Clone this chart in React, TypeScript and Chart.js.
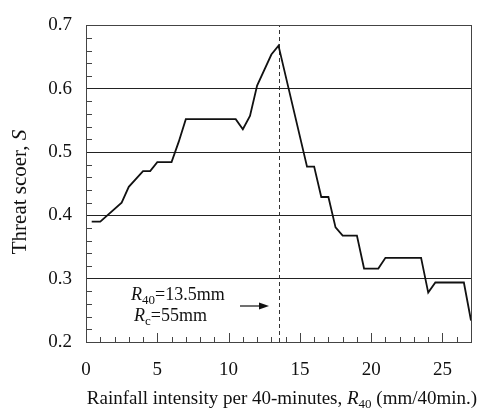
import React, { useEffect, useRef } from "react";
import { Chart, registerables } from "chart.js";

Chart.register(...registerables);

// ---- data ----
const rainfallR40 = [0.4, 1, 2.5, 3, 4, 4.5, 5, 6, 6.5, 7, 10.5, 11, 11.5, 12, 13, 13.5, 15.5, 16, 16.5, 17, 17.5, 18, 19, 19.5, 20.5, 21, 23.5, 24, 24.5, 26.5, 27];
const threatScore = [0.39, 0.39, 0.42, 0.445, 0.47, 0.47, 0.484, 0.484, 0.516, 0.552, 0.552, 0.536, 0.557, 0.605, 0.654, 0.668, 0.477, 0.477, 0.429, 0.429, 0.381, 0.368, 0.368, 0.316, 0.316, 0.333, 0.333, 0.278, 0.294, 0.294, 0.234];
const xTickValues = [0, 5, 10, 15, 20, 25];
const yTickValues = [0.2, 0.3, 0.4, 0.5, 0.6, 0.7];
const thresholdR40 = 13.5;
const xMin = 0;
const xMax = 27;
const yMin = 0.2;
const yMax = 0.7;

const FONT = '"Liberation Serif", "Times New Roman", serif';

type Part = { t: string; italic?: boolean; sub?: boolean };

function partFont(p: Part, size: number) {
  const s = p.sub ? Math.round(size * 0.7) : size;
  return `${p.italic ? "italic " : ""}${s}px ${FONT}`;
}

function richWidth(ctx: CanvasRenderingContext2D, parts: Part[], size: number) {
  let w = 0;
  for (const p of parts) {
    ctx.font = partFont(p, size);
    w += ctx.measureText(p.t).width;
  }
  return w;
}

function drawRich(ctx: CanvasRenderingContext2D, parts: Part[], x: number, y: number, size: number, align: "left" | "center") {
  let cx = align === "center" ? x - richWidth(ctx, parts, size) / 2 : x;
  ctx.textAlign = "left";
  ctx.textBaseline = "alphabetic";
  for (const p of parts) {
    ctx.font = partFont(p, size);
    ctx.fillText(p.t, cx, p.sub ? y + size * 0.22 : y);
    cx += ctx.measureText(p.t).width;
  }
}

const decor = {
  id: "decor",
  beforeDatasetsDraw(chart: any) {
    const { ctx, chartArea: a, scales } = chart;
    const px = Math.round(scales.x.getPixelForValue(thresholdR40)) + 0.5;
    ctx.save();
    ctx.setLineDash([4, 3]);
    ctx.strokeStyle = "#333";
    ctx.lineWidth = 1;
    ctx.beginPath();
    ctx.moveTo(px, a.bottom);
    ctx.lineTo(px, a.top);
    ctx.stroke();
    ctx.restore();
  },
  afterDraw(chart: any) {
    const { ctx, chartArea: a, scales } = chart;
    const xs = scales.x;
    const ys = scales.y;
    ctx.save();
    // frame
    ctx.strokeStyle = "#444";
    ctx.lineWidth = 1;
    ctx.strokeRect(Math.round(a.left) + 0.5, Math.round(a.top) + 0.5, Math.round(a.right - a.left), Math.round(a.bottom - a.top));
    // x minor/major ticks
    ctx.beginPath();
    for (let v = xMin + 1; v < xMax; v++) {
      const px = Math.round(xs.getPixelForValue(v)) + 0.5;
      const len = v % 5 === 0 ? 9 : 5;
      ctx.moveTo(px, a.bottom);
      ctx.lineTo(px, a.bottom - len);
    }
    // y minor ticks
    for (let i = 1; i < 25; i++) {
      if (i % 5 === 0) continue;
      const v = yMin + i * 0.02;
      const py = Math.round(ys.getPixelForValue(v)) + 0.5;
      ctx.moveTo(a.left, py);
      ctx.lineTo(a.left + 6, py);
    }
    ctx.stroke();

    ctx.fillStyle = "#111";
    // annotations
    drawRich(ctx, [{ t: "R", italic: true }, { t: "40", sub: true }, { t: "=13.5mm" }], 131, 300, 18, "left");
    drawRich(ctx, [{ t: "R", italic: true }, { t: "c", sub: true }, { t: "=55mm" }], 134, 321, 18, "left");
    // arrow
    const ay = 306;
    const ax2 = Math.round(xs.getPixelForValue(thresholdR40)) - 10;
    ctx.strokeStyle = "#222";
    ctx.lineWidth = 1.3;
    ctx.beginPath();
    ctx.moveTo(ax2 - 29, ay);
    ctx.lineTo(ax2 - 8, ay);
    ctx.stroke();
    ctx.beginPath();
    ctx.moveTo(ax2, ay);
    ctx.lineTo(ax2 - 10, ay - 3.5);
    ctx.lineTo(ax2 - 10, ay + 3.5);
    ctx.closePath();
    ctx.fill();

    // x title
    drawRich(
      ctx,
      [{ t: "Rainfall intensity per 40-minutes, " }, { t: "R", italic: true }, { t: "40", sub: true }, { t: " (mm/40min.)" }],
      282,
      404,
      19,
      "center"
    );
    // y title
    ctx.translate(26, 192);
    ctx.rotate(-Math.PI / 2);
    drawRich(ctx, [{ t: "Threat scoer, " }, { t: "S", italic: true }], 0, 0, 21, "center");
    ctx.restore();
  },
};

export default function App() {
  const ref = useRef<HTMLCanvasElement | null>(null);
  useEffect(() => {
    if (!ref.current) return;
    const chart = new Chart(ref.current, {
      type: "line",
      data: {
        datasets: [
          {
            data: rainfallR40.map((x, i) => ({ x, y: threatScore[i] })),
            borderColor: "#111",
            borderWidth: 1.8,
            pointRadius: 0,
            tension: 0,
            fill: false,
          },
        ],
      },
      options: {
        animation: false,
        responsive: false,
        devicePixelRatio: 1,
        layout: { padding: { left: 0, right: 8, top: 22, bottom: 0 } },
        plugins: { legend: { display: false }, tooltip: { enabled: false }, title: { display: false } },
        scales: {
          x: {
            type: "linear",
            min: xMin,
            max: xMax,
            afterBuildTicks: (s: any) => {
              s.ticks = xTickValues.map((v) => ({ value: v }));
            },
            afterFit: (s: any) => {
              s.height = 68;
            },
            grid: { display: false, drawTicks: false },
            border: { display: false },
            ticks: { color: "#111", font: { family: FONT, size: 19 }, padding: 17, maxRotation: 0, autoSkip: false },
          },
          y: {
            type: "linear",
            min: yMin,
            max: yMax,
            afterBuildTicks: (s: any) => {
              s.ticks = yTickValues.map((v) => ({ value: v }));
            },
            afterFit: (s: any) => {
              s.width = 86;
            },
            grid: { display: true, drawTicks: false, color: "#222", lineWidth: 1 },
            border: { display: false },
            ticks: {
              color: "#111",
              font: { family: FONT, size: 19 },
              padding: 14,
              callback: (v: any) => Number(v).toFixed(1),
            },
          },
        },
      },
      plugins: [decor],
    });
    return () => chart.destroy();
  }, []);
  return (
    <div style={{ position: "absolute", left: 0, top: 0, width: 479, height: 410, background: "#fff" }}>
      <canvas ref={ref} width={479} height={410} style={{ width: 479, height: 410, display: "block" }} />
    </div>
  );
}
